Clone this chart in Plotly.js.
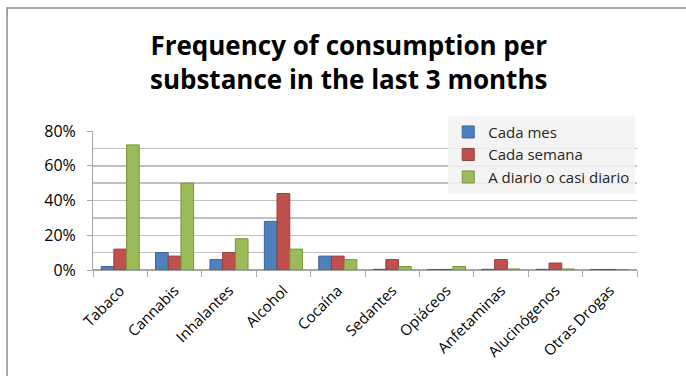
<!DOCTYPE html>
<html>
<head>
<meta charset="utf-8">
<script src="https://cdn.plot.ly/plotly-3.0.1.min.js"></script>
<style>
html,body{margin:0;padding:0;background:#fff;}
#chart{width:686px;height:376px;}
</style>
</head>
<body>
<div id="chart"></div>
<script>
const categories = ["Tabaco","Cannabis","Inhalantes","Alcohol","Cocaína","Sedantes","Opiáceos","Anfetaminas","Alucinógenos","Otras Drogas"];
const seriesNames = ["Cada mes","Cada semana","A diario o casi diario"];
const cadaMes = [2, 10, 6, 28, 8, 0.4, 0.3, 0.4, 0.4, 0.3];
const cadaSemana = [12, 8, 10, 44, 8, 6, 0.3, 6, 4, 0.3];
const aDiario = [72, 50, 18, 12, 6, 2, 2, 0.6, 0.6, 0.3];
const tickValues = [0, 20, 40, 60, 80];
const tickLabels = ["0%","20%","40%","60%","80%"];

const colors = ["#4F81BD","#C0504D","#9BBB59"];
const lineColors = ["#3A6396","#943C3A","#76923C"];
const allSeries = [cadaMes, cadaSemana, aDiario];

const FONT = "'Open Sans', 'Noto Sans', sans-serif";

const traces = allSeries.map((vals, i) => ({
  type: "bar",
  name: seriesNames[i],
  x: categories,
  y: vals,
  marker: {color: colors[i], line: {color: lineColors[i], width: 1}},
  hoverinfo: "x+y"
}));

const layout = {
  width: 686, height: 376,
  paper_bgcolor: "#ffffff", plot_bgcolor: "#ffffff",
  margin: {l: 93, r: 49, t: 131, b: 106},
  barmode: "group", bargap: 0.3, bargroupgap: 0,
  title: {
    text: "Frequency of consumption per<br>substance in the last 3 months",
    font: {family: FONT, size: 26, color: "#000000", weight: "bold"},
    x: 0.47, xanchor: "center", xref: "paper",
    y: 0.853, yanchor: "top", yref: "container"
  },
  xaxis: {
    type: "category",
    tickangle: -45,
    tickfont: {family: FONT, size: 15, color: "#000000"},
    showline: true, linecolor: "#A6A6A6", linewidth: 1,
    ticks: "outside", ticklen: 6, tickcolor: "#A6A6A6",
    tickson: "boundaries",
    ticklabelstandoff: 5,
    showgrid: false, zeroline: false,
    fixedrange: true
  },
  yaxis: {
    range: [0, 80],
    tickvals: tickValues, ticktext: tickLabels,
    tickfont: {family: FONT, size: 16, color: "#000000"},
    showline: true, linecolor: "#A6A6A6", linewidth: 1,
    ticks: "outside", ticklen: 5, tickcolor: "#A6A6A6",
    ticklabelstandoff: 8,
    showgrid: true, gridcolor: "#BFBFBF", gridwidth: 1.5,
    minor: {dtick: 10, showgrid: true, gridcolor: "#BFBFBF", gridwidth: 1.5},
    zeroline: true, zerolinecolor: "#A6A6A6", zerolinewidth: 1.5,
    fixedrange: true
  },
  legend: {
    x: 0.653, xanchor: "left", y: 1.11, yanchor: "top",
    bgcolor: "rgba(242,242,242,0.85)",
    font: {family: FONT, size: 15, color: "#262626"},
    itemwidth: 30, tracegroupgap: 0
  },
  shapes: [{
    type: "rect", xref: "paper", yref: "paper",
    x0: -0.158, x1: 1.5, y0: 1.885, y1: -1.5,
    line: {color: "#8C8C8C", width: 1.5}, fillcolor: "rgba(0,0,0,0)", layer: "below"
  }],
  showlegend: true
};

Plotly.newPlot("chart", traces, layout, {displayModeBar: false, staticPlot: true});
</script>
</body>
</html>
